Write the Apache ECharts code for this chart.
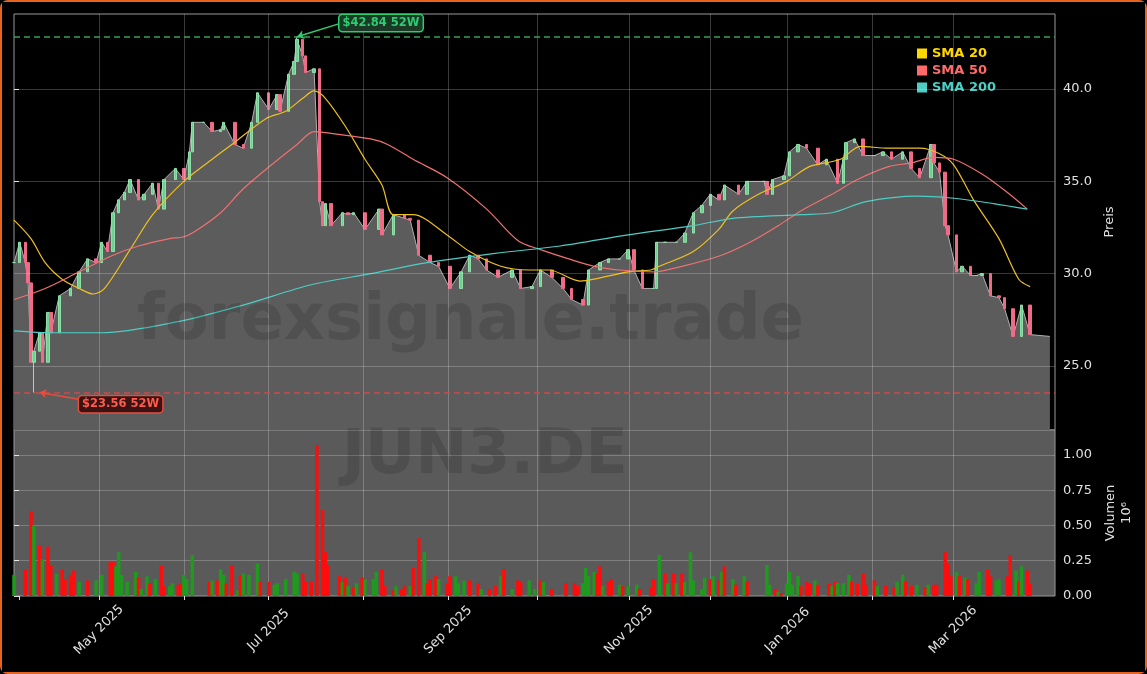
<!DOCTYPE html>
<html><head><meta charset="utf-8">
<script src="https://cdn.jsdelivr.net/npm/echarts@6/dist/echarts.min.js"></script>
<style>
html,body{margin:0;padding:0;background:#000;}
#c{width:1143px;height:670px;border:2px solid #e8641e;border-radius:8px;box-sizing:content-box;}
</style></head><body>
<div id="c"></div>
<script>
// x positions in chart-day units (0 = start of axis)
const priceDays = [0,2,4,5,6,7,9,10,12,13,16,20,23,26,29,31,33,35,37,39,41,44,46,49,51,53,57,60,62,63,67,70,73,74,78,81,84,86,90,93,94,97,99,100,102,103,106,108,109,110,112,116,118,120,124,129,130,134,138,140,143,147,150,154,158,161,164,167,171,176,179,183,186,190,194,197,201,203,207,210,214,217,219,222,226,227,230,234,237,240,243,246,249,251,256,259,265,266,268,272,274,277,280,284,287,291,293,294,297,300,304,307,310,314,317,320,324,325,327,329,330,333,335,338,340,342,345,348,350,353,356,359];
const closes = [30.6,31.7,30.6,29.5,25.2,25.8,26.8,25.2,27.9,26.8,28.8,29.2,30.1,30.8,30.6,31.7,31.2,33.3,34.0,34.4,35.1,34.0,34.3,34.9,33.5,35.1,35.7,35.1,36.6,38.2,38.2,37.7,37.8,38.2,37.0,36.8,38.2,39.8,38.9,39.7,38.8,40.8,41.5,42.7,41.8,40.9,41.1,33.9,32.6,33.8,32.6,33.3,33.2,33.3,32.4,33.5,32.1,33.2,33.0,32.9,31.0,30.6,30.4,29.2,30.1,31.0,30.8,30.2,29.8,30.2,29.2,29.3,30.2,29.8,29.2,28.6,28.3,30.2,30.6,30.8,30.8,31.3,30.2,29.2,29.2,31.7,31.7,31.7,32.2,33.3,33.7,34.3,34.0,34.8,34.3,35.0,35.0,34.3,35.1,35.3,36.6,37.0,36.8,35.9,36.2,34.9,36.2,37.1,37.3,36.4,36.4,36.6,36.2,36.6,35.7,35.2,37.0,36.0,35.5,32.6,32.1,30.1,30.4,29.9,29.9,30.0,28.8,28.7,28.1,26.6,28.3,26.7];
const areaEndDay = 366, areaEndValue = 26.6;

const sma20Days = [0,6,11,17,23,28,32,41,49,60,70,77,89,96,102,106,110,117,124,130,134,141,153,161,172,182,189,200,205,217,225,228,240,249,254,263,273,281,292,299,309,320,327,332,339,348,355,359];
const sma20 = [32.9,31.9,30.6,29.7,29.2,28.9,29.2,31.3,33.2,35.0,36.2,37.0,38.4,38.8,39.5,39.9,39.5,38.0,36.2,34.8,33.2,33.2,32.1,31.2,30.4,30.2,30.2,29.6,29.7,30.1,30.2,30.4,31.2,32.4,33.4,34.3,35.0,35.8,36.2,36.9,36.8,36.8,36.5,35.9,34.0,31.9,29.7,29.3];
const sma50Days = [0,11,23,35,44,55,60,65,73,81,91,100,106,112,126,132,141,153,167,178,186,196,205,214,226,236,250,260,270,278,289,298,309,317,325,332,342,351,358];
const sma50 = [28.6,29.2,30.1,31.0,31.5,31.9,32.0,32.4,33.3,34.6,35.9,37.0,37.7,37.6,37.3,37.0,36.2,35.2,33.5,31.8,31.3,30.8,30.4,30.2,30.1,30.4,31.0,31.7,32.6,33.4,34.3,35.1,35.8,36.0,36.3,36.2,35.4,34.4,33.5];
const sma200Days = [0,13,31,58,81,105,126,146,170,193,217,240,254,278,289,301,319,331,346,358];
const sma200 = [26.9,26.8,26.8,27.4,28.3,29.4,30.0,30.6,31.1,31.5,32.1,32.6,33.0,33.2,33.3,33.9,34.2,34.1,33.8,33.5];

const volDays = [0,4,6,7,9,10,12,13,15,17,18,20,21,23,26,29,31,34,35,36,37,38,40,43,44,45,47,48,50,52,53,55,56,58,59,60,61,63,69,70,72,73,74,75,77,79,80,81,83,86,87,90,92,93,96,99,100,102,103,105,107,109,110,111,115,116,117,118,120,121,123,124,127,128,130,131,134,135,137,138,140,141,143,145,146,147,149,150,153,154,156,157,159,161,164,165,168,170,172,173,176,178,179,182,184,186,187,190,195,198,199,201,202,203,205,206,207,208,210,211,214,215,217,220,221,225,226,228,230,231,233,234,236,237,239,240,243,244,246,247,249,250,251,254,255,258,259,266,267,269,270,271,273,274,275,277,278,280,281,283,284,288,289,290,291,293,295,296,298,300,301,304,305,308,311,312,314,315,317,319,322,323,325,326,329,330,331,333,334,336,337,340,341,344,345,347,348,351,352,354,355,356,358,359];
const volumes = [0.15,0.19,0.60,0.50,0.36,0.26,0.35,0.22,0.16,0.19,0.12,0.15,0.18,0.10,0.11,0.11,0.15,0.24,0.24,0.21,0.31,0.15,0.10,0.17,0.13,0.05,0.14,0.09,0.12,0.22,0.07,0.07,0.09,0.08,0.09,0.15,0.12,0.29,0.10,0.11,0.11,0.19,0.15,0.09,0.22,0.04,0.15,0.16,0.15,0.23,0.10,0.10,0.08,0.09,0.12,0.17,0.16,0.16,0.10,0.10,1.07,0.61,0.31,0.22,0.14,0.10,0.13,0.07,0.06,0.09,0.13,0.12,0.12,0.17,0.19,0.07,0.04,0.07,0.05,0.07,0.07,0.20,0.41,0.31,0.09,0.12,0.14,0.12,0.09,0.14,0.14,0.09,0.11,0.11,0.09,0.05,0.05,0.07,0.14,0.19,0.05,0.11,0.10,0.11,0.05,0.11,0.10,0.05,0.09,0.09,0.07,0.09,0.20,0.14,0.17,0.16,0.21,0.07,0.10,0.12,0.08,0.07,0.07,0.08,0.05,0.06,0.12,0.29,0.16,0.09,0.16,0.09,0.16,0.10,0.31,0.11,0.05,0.13,0.12,0.14,0.11,0.17,0.21,0.12,0.08,0.14,0.10,0.22,0.08,0.05,0.03,0.02,0.09,0.17,0.08,0.14,0.07,0.10,0.09,0.11,0.08,0.09,0.07,0.10,0.09,0.09,0.15,0.10,0.09,0.16,0.08,0.11,0.07,0.07,0.06,0.10,0.15,0.10,0.07,0.08,0.06,0.08,0.08,0.08,0.31,0.23,0.14,0.17,0.14,0.13,0.12,0.09,0.17,0.19,0.14,0.11,0.12,0.14,0.29,0.18,0.10,0.21,0.18,0.09];
const volUp = [1,0,0,1,0,1,0,0,1,0,0,0,0,1,0,1,1,0,0,1,1,1,1,1,0,1,1,0,1,0,0,1,1,0,0,1,1,1,0,1,0,1,1,0,0,1,0,1,1,1,0,0,1,1,1,1,1,0,0,0,0,0,0,0,0,1,0,1,0,1,0,1,1,1,0,0,0,1,0,0,1,0,0,1,0,0,0,1,0,0,1,1,1,0,0,1,0,0,1,0,1,0,0,1,1,0,1,0,0,0,0,1,1,1,1,0,0,1,0,0,1,0,1,1,0,0,0,1,0,1,0,1,0,1,1,1,1,1,0,1,0,1,0,1,0,1,0,1,1,0,1,0,1,1,1,1,0,0,0,1,0,0,1,0,1,1,1,0,0,0,0,0,1,0,0,1,1,0,0,1,0,1,0,0,0,0,0,1,0,1,0,1,1,0,0,1,1,0,0,1,0,1,0];

// month ticks (trading-day axis positions)
const monthTickDays = [1.7,30,60,89.9,123.4,153.4,184.8,217.2,246.1,273.3,303.2,331.8];
const monthTickLabels = ['','May 2025','','Jul 2025','','Sep 2025','','Nov 2025','','Jan 2026','','Mar 2026'];
const priceTicks = [25,30,35,40];
const volTicks = [0,0.25,0.5,0.75,1.0];
const high52 = 42.84, low52 = 23.56, high52Day = 100, low52Day = 7;

const candles = priceDays.map((d,i)=>{
  const o = i===0 ? closes[0] : closes[i-1], c = closes[i];
  let l = Math.min(o,c), h = Math.max(o,c);
  if (d===low52Day) l = low52;
  if (d===high52Day) h = high52;
  return [d,o,c,l,h];
});
const area = priceDays.map((d,i)=>[d,closes[i]]).concat([[areaEndDay,areaEndValue]]);
const z = (a,b)=>a.map((d,i)=>[d,b[i]]);

const gridLine = {type:'solid',color:'rgba(255,255,255,0.22)',width:1};
const vLines = monthTickDays.slice(1).map(d=>({xAxis:d}));
const chart = echarts.init(document.getElementById('c'));
const axisText = {color:'#e0e0e0',fontSize:13,fontFamily:'DejaVu Sans'};
chart.setOption({
  backgroundColor:'#000',
  animation:false,
  textStyle:{fontFamily:'DejaVu Sans'},
  grid:[
    {left:12,right:90,top:12,height:416,show:true,borderColor:'#999',borderWidth:1,backgroundColor:'#000'},
    {left:12,right:90,top:428,height:166,show:true,borderColor:'#999',borderWidth:1,backgroundColor:'#5a5a5a'}
  ],
  xAxis:[
    {type:'value',gridIndex:0,min:0,max:367.8,axisLabel:{show:false},axisTick:{show:false},axisLine:{show:false},splitLine:{show:false}},
    {type:'value',gridIndex:1,min:0,max:367.8,splitLine:{show:false},axisLine:{show:false},
     axisTick:{show:true,customValues:monthTickDays,lineStyle:{color:'#ddd'},length:4},
     axisLabel:{customValues:monthTickDays,rotate:45,align:'center',verticalAlign:'middle',margin:34,...axisText,
       formatter:v=>{const i=monthTickDays.findIndex(t=>Math.abs(t-v)<0.01);return i>=0?monthTickLabels[i]:'';}}}
  ],
  yAxis:[
    {type:'value',gridIndex:0,position:'right',min:21.53,max:44.07,splitLine:{show:false},axisLine:{show:false},
     axisTick:{show:true,customValues:priceTicks,lineStyle:{color:'#ddd'}},
     axisLabel:{customValues:priceTicks,...axisText,formatter:v=>v.toFixed(1)},
     name:'Preis',nameLocation:'middle',nameRotate:90,nameGap:40,nameTextStyle:axisText},
    {type:'value',gridIndex:1,position:'right',min:0,max:1.177,splitLine:{show:false},axisLine:{show:false},
     axisTick:{show:true,customValues:volTicks,lineStyle:{color:'#ddd'}},
     axisLabel:{customValues:volTicks,...axisText,formatter:v=>v.toFixed(2)},
     name:'Volumen\n10⁶',nameLocation:'middle',nameRotate:90,nameGap:42,nameTextStyle:{...axisText,lineHeight:16}}
  ],
  legend:{orient:'vertical',left:910,top:40,itemWidth:10,itemHeight:10,itemGap:4,icon:'rect',
    data:[{name:'SMA 20',textStyle:{color:'#ffd700'},itemStyle:{color:'#ffd700'}},
          {name:'SMA 50',textStyle:{color:'#ff6b6b'},itemStyle:{color:'#ff6b6b'}},
          {name:'SMA 200',textStyle:{color:'#4ecdc4'},itemStyle:{color:'#4ecdc4'}}],
    textStyle:{fontWeight:'bold',fontSize:13}},
  graphic:[
    {type:'text',left:135,top:288,z:100,silent:true,style:{text:'forexsignale.trade',font:'bold 64px "DejaVu Sans"',fill:'rgba(0,0,0,0.13)'}},
    {type:'text',left:340,top:424,z:100,silent:true,style:{text:'JUN3.DE',font:'bold 62px "DejaVu Sans"',fill:'rgba(0,0,0,0.13)'}}
  ],
  series:[
    {type:'line',name:'area',xAxisIndex:0,yAxisIndex:0,data:area,symbol:'none',
     lineStyle:{color:'#b0b0b0',width:1},areaStyle:{color:'#5c5c5c',opacity:1,origin:'start'},z:1,
     markLine:{silent:true,symbol:'none',label:{show:false},lineStyle:gridLine,
       data:vLines.concat(priceTicks.map(v=>({yAxis:v})))}},
    {type:'candlestick',name:'Kurs',xAxisIndex:0,yAxisIndex:0,data:candles,barWidth:3,z:3,
     itemStyle:{color:'#6fd18f',color0:'#ef6b88',borderColor:'#8fe0a8',borderColor0:'#ef6b88',borderWidth:1}},
    {type:'line',name:'SMA 20',data:z(sma20Days,sma20),symbol:'none',smooth:0.3,lineStyle:{color:'#f0c020',width:1.2},itemStyle:{color:'#ffd700'},z:4},
    {type:'line',name:'SMA 50',data:z(sma50Days,sma50),symbol:'none',smooth:0.3,lineStyle:{color:'#f07070',width:1.2},itemStyle:{color:'#ff6b6b'},z:4},
    {type:'line',name:'SMA 200',data:z(sma200Days,sma200),symbol:'none',smooth:0.3,lineStyle:{color:'#4ecdc4',width:1.2},itemStyle:{color:'#4ecdc4'},z:4,
     markLine:{silent:true,symbol:'none',label:{show:false},
       data:[{yAxis:high52,lineStyle:{color:'#3aa05a',type:[6,4],width:1.5}},
             {yAxis:low52,lineStyle:{color:'#d04848',type:[6,4],width:1.5}},
             [{coord:[115,43.55],symbol:'none'},{coord:[high52Day,high52],symbol:'arrow',symbolSize:7,lineStyle:{color:'#2ecc71',width:1.5,type:'solid'}}],
             [{coord:[23,23.2],symbol:'none'},{coord:[9,low52],symbol:'arrow',symbolSize:7,lineStyle:{color:'#e74c3c',width:1.5,type:'solid'}}]
       ]},
     markPoint:{silent:true,symbol:'circle',symbolSize:0,
       data:[{coord:[115,43.58],label:{show:true,position:'right',distance:0,formatter:'$42.84 52W',color:'#2ecc71',fontWeight:'bold',fontSize:11.5,
                backgroundColor:'#1a3a25',borderColor:'#2ecc71',borderWidth:1.5,borderRadius:3,padding:[2,3]}},
             {coord:[23,22.93],label:{show:true,position:'right',distance:0,formatter:'$23.56 52W',color:'#ff5a4a',fontWeight:'bold',fontSize:11.5,
                backgroundColor:'#3a1414',borderColor:'#e74c3c',borderWidth:1.5,borderRadius:3,padding:[2,3]}}]}},
    {type:'bar',name:'Volumen',xAxisIndex:1,yAxisIndex:1,barWidth:3.5,z:3,
     data:volDays.map((d,i)=>({value:[d,volumes[i]],itemStyle:{color:volUp[i]?'#1f9a1f':'#ff0c0c'}})),
     markLine:{silent:true,symbol:'none',label:{show:false},lineStyle:gridLine,z:1,
       data:vLines.concat(volTicks.slice(1).map(v=>({yAxis:v})))}}
  ]
});
</script></body></html>
